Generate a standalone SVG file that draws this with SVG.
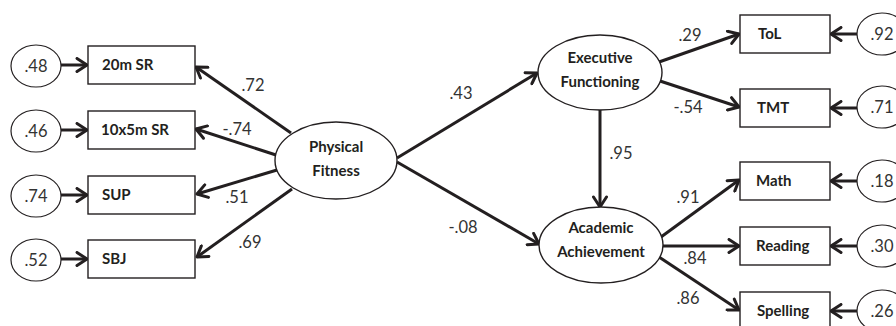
<svg xmlns="http://www.w3.org/2000/svg" width="896" height="326" viewBox="0 0 896 326">
<style>
.box{fill:#fff;stroke:#231f20;stroke-width:1.4}
.lat{fill:#fff;stroke:#231f20;stroke-width:1.4}
.err{fill:#fff;stroke:#231f20;stroke-width:1.2}
.name{font-family:Lato,"Open Sans","Liberation Sans",sans-serif;font-weight:bold;font-size:15px;fill:#231f20}
.lt{font-family:Lato,"Open Sans","Liberation Sans",sans-serif;font-weight:bold;font-size:15px;fill:#231f20;text-anchor:middle}
.num{font-family:Lato,"Open Sans","Liberation Sans",sans-serif;font-size:16.5px;fill:#333;text-anchor:middle}
.arr{stroke:#231f20;stroke-width:3;fill:none;marker-end:url(#ah)}
</style>
<defs>
<marker id="ah" markerUnits="userSpaceOnUse" markerWidth="16" markerHeight="16" viewBox="0 0 16 16" refX="13" refY="8" orient="auto">
<path d="M3,1.5 L13,8 L3,14.5" fill="none" stroke="#231f20" stroke-width="3" stroke-linejoin="round" stroke-linecap="round"/>
</marker>
</defs>
<rect width="896" height="326" fill="#fff"/>
<g id="connectors">
<line class="arr" x1="61" y1="65" x2="87" y2="65"/>
<line class="arr" x1="61" y1="130" x2="87" y2="130"/>
<line class="arr" x1="61" y1="195" x2="87" y2="195"/>
<line class="arr" x1="61" y1="259" x2="87" y2="259"/>
<line class="arr" x1="291" y1="133" x2="196" y2="67"/>
<line class="arr" x1="276" y1="155" x2="196" y2="129"/>
<line class="arr" x1="277" y1="170" x2="197" y2="194"/>
<line class="arr" x1="292" y1="189" x2="197" y2="257"/>
<line class="arr" x1="397" y1="158" x2="537" y2="73"/>
<line class="arr" x1="397" y1="162" x2="539" y2="244"/>
<line class="arr" x1="600" y1="110" x2="600" y2="207"/>
<line class="arr" x1="659" y1="62" x2="739" y2="34"/>
<line class="arr" x1="660" y1="81" x2="739" y2="107"/>
<line class="arr" x1="661" y1="237" x2="739" y2="180"/>
<line class="arr" x1="663" y1="246" x2="739" y2="246"/>
<line class="arr" x1="659" y1="257" x2="739" y2="310"/>
<line class="arr" x1="857" y1="34" x2="831" y2="34"/>
<line class="arr" x1="857" y1="108" x2="831" y2="108"/>
<line class="arr" x1="857" y1="181" x2="831" y2="181"/>
<line class="arr" x1="857" y1="246" x2="831" y2="246"/>
<line class="arr" x1="857" y1="311" x2="831" y2="311"/>
<text class="num" x="253" y="91">.72</text>
<text class="num" x="237" y="135">-.74</text>
<text class="num" x="237" y="203">.51</text>
<text class="num" x="250" y="248">.69</text>
<text class="num" x="461" y="99">.43</text>
<text class="num" x="463" y="233">-.08</text>
<text class="num" x="621" y="159">.95</text>
<text class="num" x="690" y="41">.29</text>
<text class="num" x="688" y="113">-.54</text>
<text class="num" x="688" y="203">.91</text>
<text class="num" x="695" y="264">.84</text>
<text class="num" x="688" y="304">.86</text>
</g>
<g id="e1"><ellipse class="err" cx="36" cy="66" rx="25" ry="21"/><text class="num" x="36" y="72">.48</text></g>
<g id="e2"><ellipse class="err" cx="36" cy="131" rx="25" ry="21"/><text class="num" x="36" y="137">.46</text></g>
<g id="e3"><ellipse class="err" cx="36" cy="196" rx="25" ry="21"/><text class="num" x="36" y="202">.74</text></g>
<g id="e4"><ellipse class="err" cx="36" cy="260" rx="25" ry="21"/><text class="num" x="36" y="266">.52</text></g>
<g id="b20m"><rect class="box" x="88" y="46" width="107" height="38"/><text class="name" x="102" y="70">20m SR</text></g>
<g id="b10x5"><rect class="box" x="88" y="111" width="107" height="38"/><text class="name" x="101" y="135">10x5m SR</text></g>
<g id="bsup"><rect class="box" x="88" y="176" width="107" height="38"/><text class="name" x="102" y="200">SUP</text></g>
<g id="bsbj"><rect class="box" x="88" y="240" width="107" height="38"/><text class="name" x="102" y="264">SBJ</text></g>
<g id="pf"><ellipse class="lat" cx="336" cy="160.5" rx="61" ry="38.5"/><text class="lt" x="336" y="152">Physical</text><text class="lt" x="336" y="176">Fitness</text></g>
<g id="ef"><ellipse class="lat" cx="600" cy="72.5" rx="62" ry="37.5"/><text class="lt" x="600" y="63">Executive</text><text class="lt" x="600" y="87">Functioning</text></g>
<g id="aa"><ellipse class="lat" cx="601" cy="245" rx="62" ry="38"/><text class="lt" x="601" y="233">Academic</text><text class="lt" x="601" y="257">Achievement</text></g>
<g id="btol"><rect class="box" x="740" y="15" width="90" height="38"/><text class="name" x="758" y="39">ToL</text></g>
<g id="btmt"><rect class="box" x="740" y="89" width="90" height="38"/><text class="name" x="757" y="113">TMT</text></g>
<g id="bmath"><rect class="box" x="740" y="162" width="90" height="38"/><text class="name" x="756" y="186">Math</text></g>
<g id="bread"><rect class="box" x="740" y="227" width="90" height="38"/><text class="name" x="756" y="251">Reading</text></g>
<g id="bspell"><rect class="box" x="740" y="292" width="90" height="38"/><text class="name" x="757" y="316">Spelling</text></g>
<g id="r1"><ellipse class="err" cx="882" cy="34" rx="25" ry="21"/><text class="num" x="882" y="40">.92</text></g>
<g id="r2"><ellipse class="err" cx="882" cy="107" rx="25" ry="21"/><text class="num" x="882" y="113">.71</text></g>
<g id="r3"><ellipse class="err" cx="882" cy="181" rx="25" ry="21"/><text class="num" x="882" y="187">.18</text></g>
<g id="r4"><ellipse class="err" cx="882" cy="246" rx="25" ry="21"/><text class="num" x="882" y="252">.30</text></g>
<g id="r5"><ellipse class="err" cx="882" cy="311" rx="25" ry="21"/><text class="num" x="882" y="317">.26</text></g>
</svg>
